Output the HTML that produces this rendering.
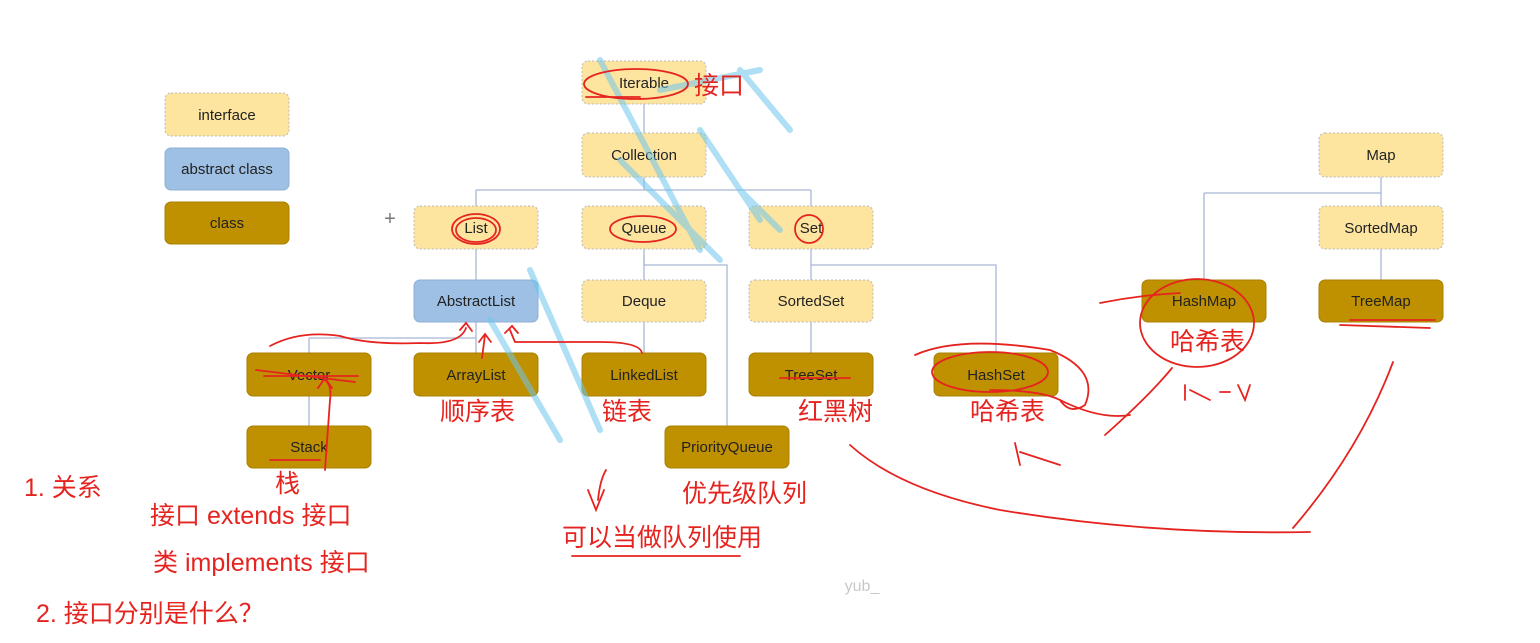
<!DOCTYPE html>
<html><head><meta charset="utf-8"><style>
html,body{margin:0;padding:0;background:#fff;width:1540px;height:643px;overflow:hidden}
svg{display:block}
.t{font-family:"Liberation Sans","Noto Sans CJK SC",sans-serif;font-size:15px;fill:#222;text-anchor:middle}
.r{font-family:"Liberation Sans","Noto Sans CJK SC",sans-serif;font-size:25px;fill:#e52420}
.i{fill:#fde5a0;stroke:#b8b8b8;stroke-dasharray:2 2}
.a{fill:#9dc0e4;stroke:#8fb0d4}
.c{fill:#bf9000;stroke:#a88000}
.ln{stroke:#a9b8d4;stroke-width:1.3;fill:none}
.rd{stroke:#e52420;stroke-width:1.8;fill:none;stroke-linecap:round}
.w{stroke:#6ec6ee;stroke-width:6;fill:none;opacity:.55;stroke-linecap:round}
</style></head><body>
<svg width="1540" height="643" viewBox="0 0 1540 643">
<g class="ln">
<path d="M644 104V133"/>
<path d="M644 177V190M476 190H811M476 190V206M811 190V206"/>
<path d="M476 249V280M644 249V280M811 249V280"/>
<path d="M644 255V265H727V426"/>
<path d="M811 265H996V353"/>
<path d="M476 322V338M309 338H476M309 338V353"/>
<path d="M476 338V353M644 322V353M811 322V353"/>
<path d="M309 396V426"/>
<path d="M1381 177V193M1204 193H1381M1204 193V280M1381 193V206M1381 249V280"/>
</g>
<rect class="i" x="165" y="93" width="124" height="43" rx="6"/><text class="t" x="227" y="120">interface</text>
<rect class="a" x="165" y="148" width="124" height="42" rx="6"/><text class="t" x="227" y="174">abstract class</text>
<rect class="c" x="165" y="202" width="124" height="42" rx="6"/><text class="t" x="227" y="228">class</text>
<rect class="i" x="582" y="61" width="124" height="43" rx="6"/><text class="t" x="644" y="88">Iterable</text>
<rect class="i" x="582" y="133" width="124" height="44" rx="6"/><text class="t" x="644" y="160">Collection</text>
<rect class="i" x="414" y="206" width="124" height="43" rx="6"/><text class="t" x="476" y="233">List</text>
<rect class="i" x="582" y="206" width="124" height="43" rx="6"/><text class="t" x="644" y="233">Queue</text>
<rect class="i" x="749" y="206" width="124" height="43" rx="6"/><text class="t" x="811" y="233">Set</text>
<rect class="a" x="414" y="280" width="124" height="42" rx="6"/><text class="t" x="476" y="306">AbstractList</text>
<rect class="i" x="582" y="280" width="124" height="42" rx="6"/><text class="t" x="644" y="306">Deque</text>
<rect class="i" x="749" y="280" width="124" height="42" rx="6"/><text class="t" x="811" y="306">SortedSet</text>
<rect class="c" x="247" y="353" width="124" height="43" rx="6"/><text class="t" x="309" y="380">Vector</text>
<rect class="c" x="414" y="353" width="124" height="43" rx="6"/><text class="t" x="476" y="380">ArrayList</text>
<rect class="c" x="582" y="353" width="124" height="43" rx="6"/><text class="t" x="644" y="380">LinkedList</text>
<rect class="c" x="749" y="353" width="124" height="43" rx="6"/><text class="t" x="811" y="380">TreeSet</text>
<rect class="c" x="934" y="353" width="124" height="43" rx="6"/><text class="t" x="996" y="380">HashSet</text>
<rect class="c" x="247" y="426" width="124" height="42" rx="6"/><text class="t" x="309" y="452">Stack</text>
<rect class="c" x="665" y="426" width="124" height="42" rx="6"/><text class="t" x="727" y="452">PriorityQueue</text>
<rect class="i" x="1319" y="133" width="124" height="44" rx="6"/><text class="t" x="1381" y="160">Map</text>
<rect class="i" x="1319" y="206" width="124" height="43" rx="6"/><text class="t" x="1381" y="233">SortedMap</text>
<rect class="c" x="1142" y="280" width="124" height="42" rx="6"/><text class="t" x="1204" y="306">HashMap</text>
<rect class="c" x="1319" y="280" width="124" height="42" rx="6"/><text class="t" x="1381" y="306">TreeMap</text>
<text x="390" y="225" style="font:20px 'Liberation Sans';fill:#777;text-anchor:middle">+</text>
<g class="w">
<path d="M530 270L600 430"/><path d="M490 320L560 440"/><path d="M600 60L700 250"/>
<path d="M660 90L760 70"/><path d="M700 130L760 220"/><path d="M620 160L720 260"/>
<path d="M740 70L790 130"/><path d="M740 190L780 230"/>
</g>
<g class="rd">
<ellipse cx="636" cy="84" rx="52" ry="15"/><path d="M586 97H640"/>
<ellipse cx="476" cy="229" rx="24" ry="15"/><ellipse cx="476" cy="230" rx="20" ry="12"/>
<ellipse cx="643" cy="229" rx="33" ry="13"/>
<ellipse cx="809" cy="229" rx="14" ry="14"/>
<path d="M264 376H358"/><path d="M256 370L355 382"/>
<path d="M270 346Q300 330 340 336Q370 345 420 343Q460 345 466 328"/><path d="M460 330L466 323L472 331"/>
<path d="M482 358L485 335"/><path d="M479 342L485 334L491 342"/>
<path d="M642 353Q640 342 600 342H515Q512 335 510 330"/><path d="M505 333L512 326L518 333"/>
<path d="M325 470L330 400Q332 385 325 380"/><path d="M318 388L325 378L332 388"/>
<path d="M270 460H320"/>
<path d="M606 470Q600 480 598 500"/><path d="M588 490L596 510L604 490"/>
<path d="M780 378H850"/>
<path d="M915 355Q960 335 1050 350Q1100 370 1085 405Q1070 415 1060 400Q1040 390 990 390"/><ellipse cx="990" cy="372" rx="58" ry="20"/>
<path d="M1100 303Q1140 295 1180 293"/><ellipse cx="1197" cy="323" rx="57" ry="44"/>
<path d="M1060 400Q1100 420 1130 415"/><path d="M1105 435Q1150 395 1172 368"/>
<path d="M1350 320H1435"/><path d="M1340 325L1430 328"/>
<path d="M850 445Q900 490 1000 510Q1150 535 1310 532"/><path d="M1293 528Q1360 450 1393 362"/>
<path d="M1015 443L1020 465M1020 452L1060 465"/>
<path d="M1185 385V400M1190 390L1210 400M1220 392H1230M1238 385L1245 400L1250 385"/>
<path d="M572 556H740"/>
</g>
<text class="r" x="694" y="94">接口</text>
<text class="r" x="440" y="420">顺序表</text>
<text class="r" x="602" y="420">链表</text>
<text class="r" x="798" y="420">红黑树</text>
<text class="r" x="970" y="420">哈希表</text>
<text class="r" x="1170" y="350">哈希表</text>
<text class="r" x="275" y="492">栈</text>
<text class="r" x="682" y="502">优先级队列</text>
<text class="r" x="562" y="546">可以当做队列使用</text>
<text class="r" x="24" y="496">1. 关系</text>
<text class="r" x="150" y="524">接口 extends 接口</text>
<text class="r" x="153" y="571">类 implements 接口</text>
<text class="r" x="36" y="622">2. 接口分别是什么？</text>
<text x="862" y="591" style="font:16px 'Liberation Sans';fill:#c8c8c8;text-anchor:middle">yub_</text>
</svg>
</body></html>
